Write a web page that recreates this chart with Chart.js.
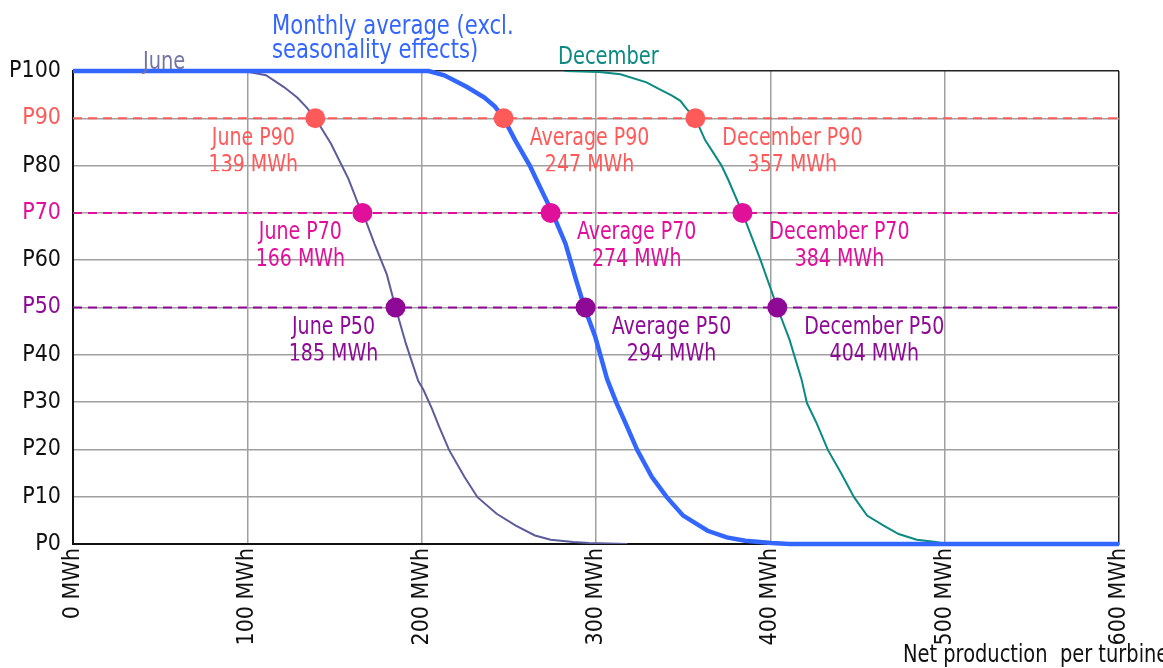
<!DOCTYPE html>
<html>
<head>
<meta charset="utf-8">
<script src="https://cdn.jsdelivr.net/npm/chart.js@4.4.1/dist/chart.umd.min.js"></script>
<style>
  html, body { margin: 0; padding: 0; background: #fff; }
  #wrap { width: 1163px; height: 668px; }
</style>
</head>
<body>
<div id="wrap"><canvas id="pChart" width="1163" height="668"></canvas></div>
<script>
const FONT = "'Liberation Sans Narrow', 'Arial Narrow', 'DejaVu Sans Condensed', sans-serif";

// exceedance curves, net production (MWh) vs probability level
const avgMWh  = [0, 204, 213, 226, 236, 242, 247, 253.6, 262, 266, 275, 282.5, 288.6, 293.4, 299.5, 306.4, 311.8, 317, 323.6, 332, 340.6, 350, 364, 375, 385.6, 400.6, 411, 600];
const avgP    = [100, 100, 99.1, 96.6, 94.4, 92.5, 90, 85.4, 80, 76.9, 70, 63.5, 55.8, 50, 43.9, 34.8, 29.8, 25.5, 19.9, 14.2, 9.9, 6, 2.8, 1.4, 0.7, 0.2, 0, 0];
const juneMWh = [0, 98, 110.7, 121, 128.6, 134, 139, 148, 158, 164, 166.5, 173, 180, 185, 191, 198, 201, 206, 210, 215.7, 224.5, 232, 243, 254, 265, 274, 287, 296, 318];
const juneP   = [100, 100, 99.1, 96.6, 94.4, 92.3, 90, 84.6, 77.2, 71.5, 69.8, 63.4, 57, 50, 42.3, 34.5, 32.6, 28.5, 24.8, 19.9, 14.2, 9.9, 6.4, 3.9, 1.8, 0.9, 0.4, 0.2, 0];
const decMWh  = [282, 302, 314, 329, 336, 343.6, 348.4, 352, 357, 362.6, 372, 376, 384, 394.4, 404, 411, 417.9, 421, 426.6, 433, 440.7, 448, 455.5, 465, 473.6, 484, 495, 501.5];
const decP    = [100, 99.8, 99.3, 97.6, 96.2, 94.8, 93.7, 92, 90, 85.4, 80, 76.9, 70, 60, 50, 43.2, 34.8, 29.8, 25.5, 19.9, 14.9, 9.9, 6, 3.9, 2.1, 0.9, 0.4, 0];

// marked probability levels
const pLevels   = [90, 70, 50];
const pColors   = ['#ff5a5a', '#e0109a', '#8e0a96'];
const juneMarks = [139, 166, 185];
const avgMarks  = [247, 274, 294];
const decMarks  = [357, 384, 404];

const xTicks = [0, 100, 200, 300, 400, 500, 600];

function pts(xs, ys) { return xs.map((x, i) => ({ x: x, y: ys[i] })); }

const datasets = [];
// markers (top)
[juneMarks, avgMarks, decMarks].forEach(marks => {
  datasets.push({
    label: 'marks',
    data: marks.map((x, i) => ({ x: x, y: pLevels[i] })),
    pointRadius: 10,
    pointHoverRadius: 10,
    pointBackgroundColor: pColors,
    pointBorderWidth: 0,
    showLine: false,
    order: 0
  });
});
datasets.push({ label: 'Average', data: pts(avgMWh, avgP), showLine: true, borderColor: '#3366ff', borderWidth: 4.5, pointRadius: 0, clip: false, order: 1 });
datasets.push({ label: 'June', data: pts(juneMWh, juneP), showLine: true, borderColor: '#5c5c9c', borderWidth: 2, pointRadius: 0, order: 2 });
datasets.push({ label: 'December', data: pts(decMWh, decP), showLine: true, borderColor: '#0a8a80', borderWidth: 2, pointRadius: 0, order: 2 });
// probability level lines
pLevels.forEach((p, i) => {
  datasets.push({
    label: 'P' + p,
    data: [{ x: 0, y: p }, { x: 600, y: p }],
    showLine: true,
    borderColor: pColors[i],
    borderWidth: 2,
    borderDash: [9, 6],
    pointRadius: 0,
    order: 3
  });
});

const markLabels = [
  { name: 'June', marks: juneMarks, dx: -62 },
  { name: 'Average', marks: avgMarks, dx: 86 },
  { name: 'December', marks: decMarks, dx: 97 }
];

// narrow text: squeeze horizontally
function narrowText(ctx, txt, x, y, sx) {
  ctx.save();
  ctx.translate(x, y);
  ctx.scale(sx, 1);
  ctx.fillText(txt, 0, 0);
  ctx.restore();
}

const textPlugin = {
  id: 'texts',
  afterDatasetsDraw(chart) {
    const ctx = chart.ctx;
    const xs = chart.scales.x, ys = chart.scales.y;
    const area = chart.chartArea;
    ctx.save();
    ctx.textAlign = 'center';
    ctx.textBaseline = 'middle';
    ctx.font = '24px ' + FONT;
    markLabels.forEach(m => {
      m.marks.forEach((v, i) => {
        const px = xs.getPixelForValue(v) + m.dx;
        const py = ys.getPixelForValue(pLevels[i]);
        ctx.fillStyle = pColors[i];
        narrowText(ctx, m.name + ' P' + pLevels[i], px, py + 20, 0.88);
        ctx.save();
        ctx.beginPath();
        ctx.rect(px - 80, py + 34, 160, 19);
        ctx.clip();
        narrowText(ctx, v + ' MWh', px, py + 47, 0.88);
        ctx.restore();
      });
    });
    // series names
    ctx.textAlign = 'left';
    ctx.fillStyle = '#7474a4';
    narrowText(ctx, 'June', 143, 63, 0.9);
    ctx.fillStyle = '#0a8a80';
    narrowText(ctx, 'December', 558, 58, 0.9);
    ctx.fillStyle = '#3366ff';
    ctx.font = '27px ' + FONT;
    narrowText(ctx, 'Monthly average (excl.', 272, 27, 0.87);
    narrowText(ctx, 'seasonality effects)', 272, 51, 0.87);
    // axis title
    ctx.fillStyle = '#111';
    ctx.font = '24px ' + FONT;
    narrowText(ctx, 'Net production  per turbine', area.right - 216, 656, 0.9);
    ctx.restore();
  }
};

new Chart(document.getElementById('pChart'), {
  type: 'scatter',
  data: { datasets: datasets },
  options: {
    responsive: false,
    animation: false,
    layout: { padding: { top: 71, right: 44, left: 0, bottom: 0 } },
    plugins: { legend: { display: false }, tooltip: { enabled: false } },
    scales: {
      x: {
        type: 'linear',
        min: 0, max: 600,
        afterBuildTicks: s => { s.ticks = xTicks.map(v => ({ value: v })); },
        afterFit: s => { s.height = 124; },
        ticks: {
          maxRotation: 90, minRotation: 90,
          padding: 4,
          color: '#111',
          font: { family: FONT, size: 23 },
          callback: v => v + ' MWh'
        },
        grid: {
          color: c => (c.tick && c.tick.value === 600) ? '#222' : '#a0a0a0',
          lineWidth: 1.5,
          drawTicks: false
        },
        border: { color: '#111', width: 2 }
      },
      y: {
        min: 0, max: 100,
        afterFit: s => { s.width = 73; },
        ticks: {
          stepSize: 10,
          padding: 12,
          color: c => {
            const i = pLevels.indexOf(c.tick.value);
            return i >= 0 ? pColors[i] : '#111';
          },
          font: { family: FONT, size: 23 },
          callback: v => 'P' + v
        },
        grid: {
          color: c => (c.tick && c.tick.value === 100) ? '#222' : '#a0a0a0',
          lineWidth: 1.5,
          drawTicks: false
        },
        border: { color: '#111', width: 2 }
      }
    }
  },
  plugins: [textPlugin]
});
</script>
</body>
</html>
